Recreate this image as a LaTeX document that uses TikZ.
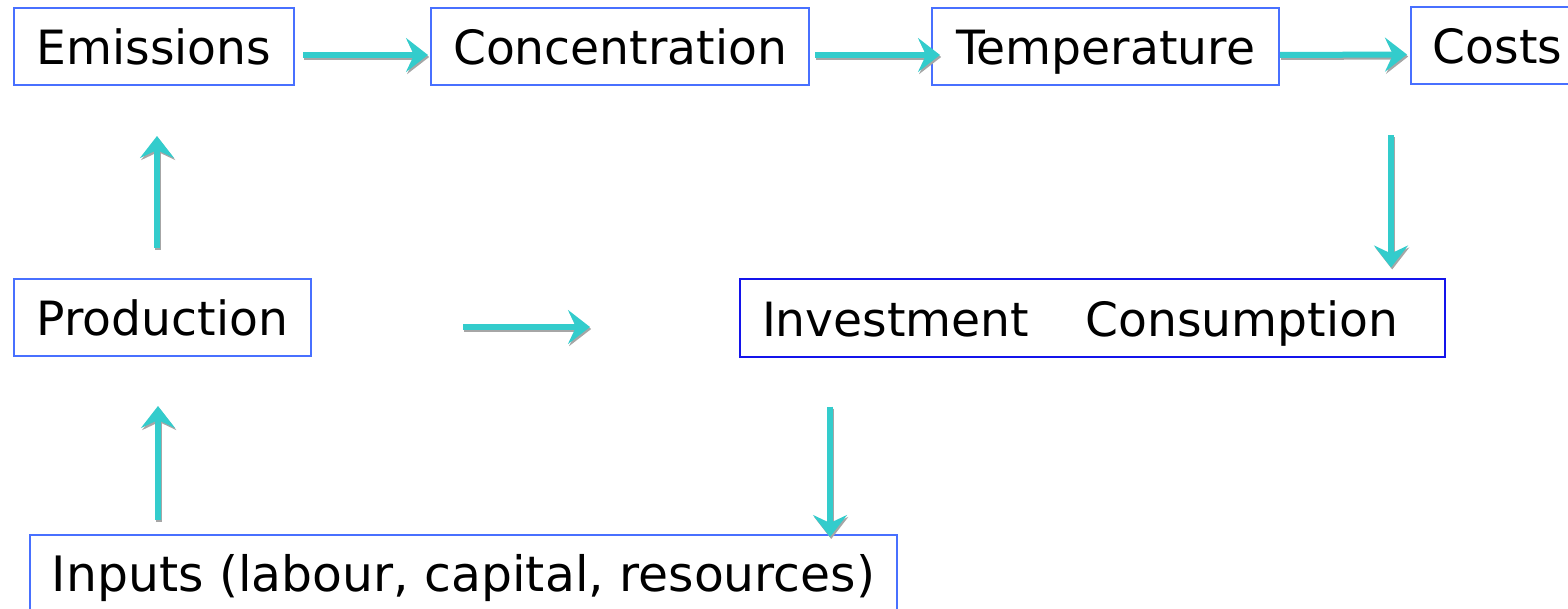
\documentclass[tikz,border=0pt]{standalone}
\usepackage{fontspec}
\setmainfont{DejaVu Sans}
\usetikzlibrary{arrows.meta,calc}
\definecolor{boxblue}{RGB}{72,112,255}
\definecolor{darkblue}{RGB}{20,20,235}
\definecolor{teal}{RGB}{51,204,204}
\tikzset{
	box/.style={draw=boxblue, line width=1pt, inner sep=0pt, outer sep=0pt, minimum height=38.5pt,
		text height=19.5pt, text depth=1.5pt, font=\fontsize{23.6}{28}\selectfont},
	flow/.style={draw=teal, line width=3pt, -{Stealth[length=11pt,width=17pt,inset=4pt]},
		preaction={draw=black!35, line width=3pt, transform canvas={xshift=0.6pt,yshift=-1pt}}}
}
\begin{document}
\begin{tikzpicture}[x=0.5pt, y=-0.5pt]
		\useasboundingbox (0,0) rectangle (1568,609);
		\node[box, minimum width=140pt] at (154, 46.5) (em) {Emissions};
		\node[box, minimum width=189pt] at (620, 46.5) (conc) {Concentration};
		\node[box, minimum width=173.5pt] at (1105.5, 46.5) (temp) {Temperature};
		\node[box, minimum width=86.5pt] at (1497.5, 46) (costs) {Costs};
		\node[box, minimum width=148.5pt] at (162.5, 317.5) (prod) {Production};
		\node[box, draw=darkblue, text width=330.5pt, inner xsep=11pt, align=left] at (1092.5, 318) (inv) {Investment\hspace{28pt}Consumption};
		\node[box, minimum width=433.5pt, font=\fontsize{24.4}{28}\selectfont] at (463.5, 573.5) (inp) {Inputs (labour, capital, resources)};
		\coordinate (mid) at (590, 327);

		\draw[flow] ($(em.east)+(9,8.5)$) -- ($(conc.west)+(-3,8.5)$);
		\draw[flow] ($(conc.east)+(6,8.5)$) -- ($(temp.west)+(8,8.5)$);
		\draw[flow] ($(temp.east)+(1,8.5)$) -- ($(costs.west)+(-4,8.5)$);

		\draw[flow] ($(inv.north east |- costs.south)+(-54,51)$) -- ($(inv.north east)+(-54,-12)$);
		\draw[flow] ($(prod.north)+(-5.5,-31)$) -- ($(em.south)+(3,51)$);
		\draw[flow] ($(prod.east)+(152,9.5)$) -- (mid);

		\draw[flow] ($(inp.north west)+(128,-15)$) -- ($(prod.south)+(-4.5,50)$);
		\draw[flow] ($(inv.south west)+(90,50)$) -- ($(inp.north east)+(-67,2)$);

	\end{tikzpicture}
\end{document}
